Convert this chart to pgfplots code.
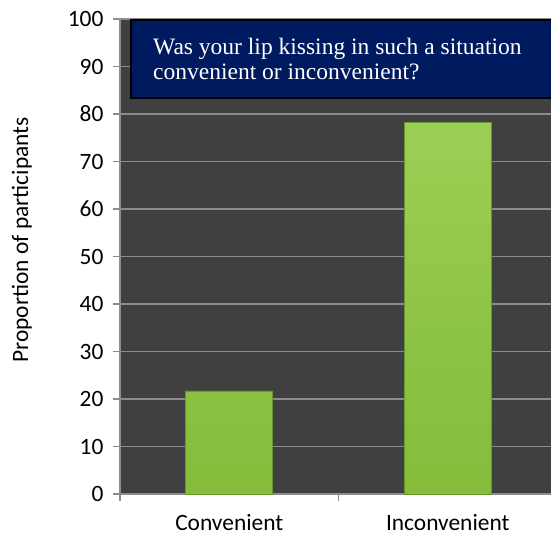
\documentclass[border=0pt]{standalone}
\usepackage{pgfplots}
\pgfplotsset{compat=1.18}
\usepackage{fontspec}
\setmainfont{Carlito}
\newfontfamily\tnr{Liberation Serif}
\usetikzlibrary{calc}

\definecolor{plotbg}{HTML}{404040}
\definecolor{gridc}{HTML}{8C8C8C}
\definecolor{barg}{HTML}{8DC83E}
\definecolor{navy}{HTML}{001A5F}

\begin{document}
\begin{tikzpicture}
  \begin{axis}[
    scale only axis,
    width=431bp, height=475bp,
    xmin=-0.5, xmax=1.4725,
    ymin=0, ymax=100,
    ytick={0,10,...,100},
    xtick={0,1},
    xticklabels={Convenient,Inconvenient},
    minor xtick={-0.5,0.5},
    major x tick style={draw=none},
    axis lines*=left,
    axis line style={gridc, line width=1.2bp},
    tick style={gridc, line width=1.2bp},
    tick align=outside,
    major tick length=7bp,
    minor tick length=7bp,
    ymajorgrids,
    grid style={gridc, line width=1.4bp},
    axis background/.style={fill=plotbg},
    tick label style={font=\fontsize{23.5}{25}\selectfont},
    /pgf/number format/assume math mode=true,
    xticklabel style={anchor=base, yshift=-29bp, inner sep=0.5bp},
    yticklabel style={xshift=-6bp},
    ylabel={Proportion of participants},
    ylabel style={at={(axis description cs:-0.2274,0.535)}, anchor=center,
      font=\fontsize{23.5}{25}\selectfont},
    clip=false,
  ]
    \addplot[ybar, bar width=87bp, top color=barg!88!white, bottom color=barg!94!black,
      draw=barg!75!black, line width=0.6bp]
      coordinates {(0,21.7) (1,78.2)};
    \coordinate (bl) at (rel axis cs:0,0);
    \draw[fill=navy, draw=black, line width=2.2bp]
      (rel axis cs:0.0255,0.834) rectangle (rel axis cs:1.05,0.998);
    \node[anchor=base west, inner sep=0pt, text=white, font=\tnr\fontsize{23.6}{26}\selectfont]
      at (rel axis cs:0.0766,0.926) {Was your lip kissing in such a situation};
    \node[anchor=base west, inner sep=0pt, text=white, font=\tnr\fontsize{23.6}{26}\selectfont]
      at (rel axis cs:0.0766,0.872) {convenient or inconvenient?};
  \end{axis}
  \pgfresetboundingbox
  \path ($(bl)+(-120bp,-41bp)$) rectangle ($(bl)+(431bp,494bp)$);
\end{tikzpicture}
\end{document}
